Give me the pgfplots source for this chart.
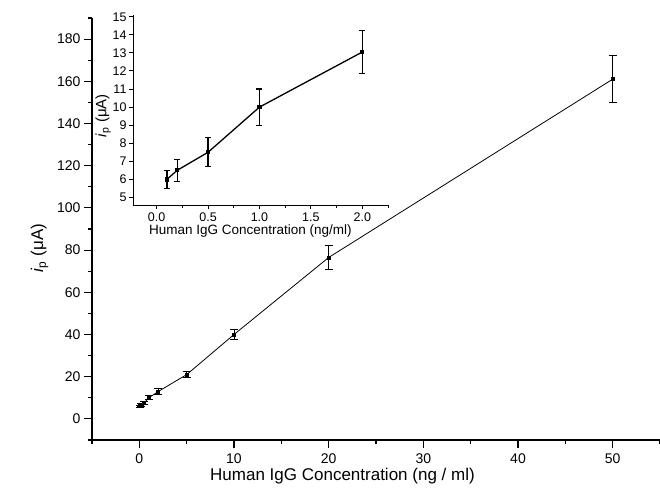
\documentclass[border=0pt]{standalone}
\usepackage{pgfplots}
\pgfplotsset{compat=1.18}
\usepackage{fontspec}
\setmainfont{Liberation Sans}

\begin{document}
\begin{tikzpicture}
\useasboundingbox (-92pt,-53pt) rectangle (568pt,440pt);
% main plot
\begin{axis}[
    name=main, at={(0pt,0pt)}, anchor=south west,
    scale only axis, width=568pt, height=422pt,
    xmin=-5, xmax=55, ymin=-10, ymax=190,
    axis x line*=bottom, axis y line*=left,
    axis line style={line width=1.1pt},
    tick align=outside,
    xtick={0,10,...,50}, minor xtick={-5,5,15,25,35,45,55},
    ytick={0,20,...,180}, minor ytick={-10,10,30,...,190},
    major tick length=8pt, minor tick length=4pt,
    tick style={line width=1.1pt, black},
    /pgf/number format/assume math mode=true,
    ticklabel style={font=\fontsize{14}{14}\selectfont},
    xticklabel style={yshift=-2pt},
    xlabel={Human IgG Concentration (ng / ml)},
    xlabel style={font=\fontsize{17}{17}\selectfont, at={(ticklabel cs:0.441)}, yshift=2pt},
    ylabel={\textit{i}\textsubscript{p} (μA)},
    ylabel style={font=\fontsize{17}{17}\selectfont, at={(ticklabel cs:0.455)}, yshift=2pt},
    clip=false,
]
\addplot[black, line width=0.8pt, mark=square*, mark size=1.5pt,
    error bars/.cd, y dir=both, y explicit,
    error bar style={line width=1pt},
    error mark options={rotate=90, mark size=4pt, line width=1pt}]
coordinates {
    (0.1,6.0) +- (0,0.5)
    (0.2,6.5) +- (0,0.6)
    (0.5,7.5) +- (0,0.8)
    (1,10) +- (0,1.0)
    (2,13) +- (0,1.5)
    (5,21) +- (0,1.5)
    (10,40) +- (0,2.5)
    (20,76.5) +- (0,5.5)
    (50,161) +- (0,11)
};
\end{axis}
% inset
\begin{axis}[
    at={(41pt,235pt)}, anchor=south west,
    scale only axis, width=255pt, height=190pt,
    xmin=-0.23, xmax=2.25, ymin=4.58, ymax=15.1,
    axis x line*=bottom, axis y line*=left,
    axis line style={line width=1pt},
    tick align=outside,
    xtick={0,0.5,...,2}, minor xtick={0.25,0.75,...,2.25},
    ytick={5,...,15},
    xticklabel={\pgfmathprintnumber[fixed,fixed zerofill,precision=1]{\tick}},
    major tick length=4pt, minor tick length=3pt,
    tick style={line width=1pt, black},
    /pgf/number format/assume math mode=true,
    ticklabel style={font=\fontsize{12.5}{12.5}\selectfont},
    yticklabel style={xshift=1pt},
    xlabel={Human IgG Concentration (ng/ml)},
    xlabel style={font=\fontsize{13.5}{13.5}\selectfont, at={(ticklabel cs:0.46)}, yshift=4pt},
    ylabel={\textit{i}\textsubscript{p} (μA)},
    ylabel style={font=\fontsize{15}{15}\selectfont, at={(ticklabel cs:0.47)}, yshift=-5pt},
    clip=false,
]
\addplot[black, line width=1.3pt, mark=square*, mark size=1.5pt,
    error bars/.cd, y dir=both, y explicit,
    error bar style={line width=1.2pt},
    error mark options={rotate=90, mark size=3pt, line width=1.2pt}]
coordinates {
    (0.1,6.0) +- (0,0.5)
    (0.2,6.5) +- (0,0.6)
    (0.5,7.5) +- (0,0.8)
    (1,10) +- (0,1.0)
    (2,13.05) +- (0,1.2)
};
\end{axis}
\end{tikzpicture}
\end{document}
